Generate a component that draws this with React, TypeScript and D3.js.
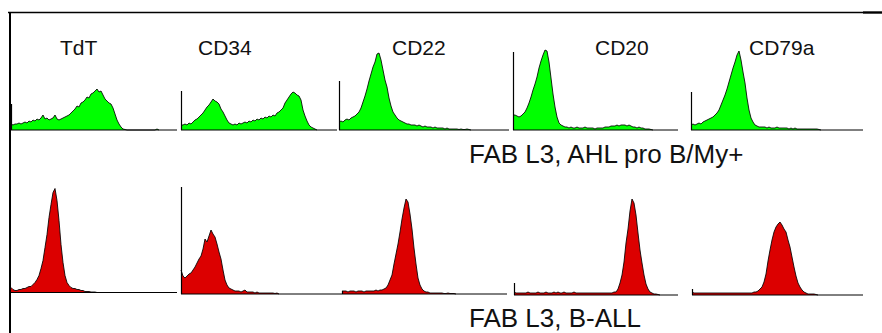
import React from "react";
import * as d3 from "d3";

// ---------- DATA (heights of histogram above baseline, sampled every channel) ----------
const markers = ["TdT", "CD34", "CD22", "CD20", "CD79a"];
const rowLabels = ["FAB L3, AHL pro B/My+", "FAB L3, B-ALL"];

// first-channel spike heights (vertical axis bars)
const greenSpikes = [26, 39, 49, 78, 38];
const redSpikes = [0, 107, 3, 12, 6];

const tdtGreen = [6, 5, 6, 6, 7, 6, 7, 8, 7, 9, 8, 10, 9, 11, 10, 12, 15, 11, 12, 10, 11, 12, 15, 11, 10, 11, 12, 13, 14, 15, 17, 19, 21, 24, 23, 27, 28, 30, 33, 32, 36, 37, 39, 41, 38, 39, 35, 31, 29, 27, 26, 22, 16, 10, 6, 3, 1, 0.5, 0, 0, 0, 0, 0, 0, 0, 0, 0, 0, 0, 0, 0, 0, 0, 1, 0];
const cd34Green = [5, 5, 6, 5, 7, 6, 8, 10, 11, 13, 15, 17, 20, 23, 25, 28, 31, 29, 28, 26, 21, 18, 14, 10, 7, 6, 5, 6, 5, 7, 6, 7, 8, 7, 9, 8, 10, 9, 11, 10, 12, 11, 13, 12, 14, 13, 15, 14, 17, 18, 20, 22, 27, 30, 33, 36, 38, 37, 35, 34, 30, 20, 14, 9, 5, 3, 2, 1, 0];
const cd22Green = [8, 9, 8, 10, 11, 10, 12, 13, 14, 16, 18, 22, 28, 34, 41, 49, 56, 63, 68, 76, 77, 70, 60, 50, 43, 32, 24, 18, 15, 12, 10, 9, 8, 7, 6, 6, 5, 5, 5, 4, 5, 4, 3, 4, 3, 3, 3, 2, 3, 2, 2, 2, 2, 1, 2, 1, 1, 1, 1, 1, 0.5, 1, 0.5, 0.5, 1, 0.5, 0];
const cd20Green = [15, 15, 14, 13, 14, 16, 18, 22, 27, 33, 40, 46, 53, 62, 69, 75, 80, 79, 68, 52, 36, 23, 13, 7, 5, 4, 3, 3, 2, 3, 2, 2, 3, 2, 2, 2, 3, 2, 2, 2, 2, 1, 2, 2, 2, 2, 3, 3, 3, 4, 4, 4, 5, 4, 5, 5, 5, 4, 5, 4, 3, 3, 2, 3, 2, 2, 1, 1, 1, 0.5, 0];
const cd79aGreen = [5, 6, 5, 6, 7, 6, 8, 9, 10, 11, 12, 13, 15, 17, 20, 25, 30, 35, 41, 48, 55, 62, 68, 75, 79, 70, 58, 47, 32, 20, 12, 8, 5, 4, 3, 3, 3, 3, 2, 3, 2, 2, 2, 3, 2, 2, 2, 2, 2, 1, 2, 1, 2, 1, 1, 1, 1, 1, 1, 1, 1, 1, 1, 1, 0.5, 0];

const tdtRed = [5, 3, 2, 2, 3, 3, 4, 4, 5, 6, 6, 8, 10, 13, 17, 24, 32, 45, 58, 75, 88, 100, 104, 92, 72, 48, 30, 17, 10, 7, 5, 4, 4, 3, 3, 2, 2, 1, 1, 1, 0.5, 0.5, 0.5, 0];
const cd34Red = [24, 18, 16, 18, 20, 21, 24, 27, 31, 35, 38, 45, 55, 52, 58, 64, 60, 57, 50, 42, 35, 24, 14, 9, 6, 5, 4, 3, 3, 3, 2, 3, 4, 2, 2, 2, 2, 1, 2, 1, 1, 1, 1, 1, 1, 1, 1, 0.5, 1, 0];
const cd22Red = [3, 3, 3, 2, 3, 3, 3, 2, 3, 3, 3, 2, 3, 3, 3, 3, 3, 4, 3, 4, 4, 5, 6, 9, 14, 19, 30, 40, 50, 62, 75, 86, 95, 92, 80, 65, 46, 30, 16, 9, 5, 3, 2, 2, 1, 1, 1, 1, 1, 1, 1, 0.5, 0.5, 1, 0.5, 0.5, 0.5, 0];
const cd20Red = [3, 2, 2, 2, 2, 2, 2, 3, 2, 2, 2, 2, 3, 2, 2, 2, 3, 2, 2, 2, 3, 2, 3, 2, 2, 3, 2, 2, 2, 2, 3, 2, 2, 2, 2, 2, 2, 2, 2, 2, 2, 2, 2, 2, 2, 2, 2, 2, 2, 2, 3, 3, 6, 12, 20, 33, 52, 66, 84, 96, 92, 80, 62, 45, 32, 20, 11, 6, 3, 2, 1, 1, 0.5, 0];
const cd79aRed = [3, 2, 2, 2, 2, 2, 2, 2, 2, 2, 2, 2, 2, 2, 2, 2, 2, 2, 2, 2, 2, 2, 2, 2, 2, 2, 2, 2, 2, 2, 2, 3, 3, 4, 6, 8, 13, 21, 34, 45, 55, 63, 68, 71, 73, 70, 66, 63, 55, 48, 38, 28, 19, 12, 8, 5, 3, 2, 1, 1, 1, 1, 0.5, 0];

const greenSeries = [tdtGreen, cd34Green, cd22Green, cd20Green, cd79aGreen];
const redSeries = [tdtRed, cd34Red, cd22Red, cd20Red, cd79aRed];

// ---------- LAYOUT ----------
type Panel = { x0: number; x1: number; base: number };
const greenPanels: Panel[] = [
  { x0: 11, x1: 177, base: 130 },
  { x0: 181, x1: 337, base: 130 },
  { x0: 339, x1: 509, base: 130 },
  { x0: 513, x1: 678, base: 130 },
  { x0: 691, x1: 863, base: 130 },
];
const redPanels: Panel[] = [
  { x0: 11, x1: 177, base: 292.5 },
  { x0: 181, x1: 342, base: 294 },
  { x0: 342, x1: 507, base: 294 },
  { x0: 514, x1: 678, base: 295 },
  { x0: 692, x1: 863, base: 295 },
];
const labelX = [60, 198, 392, 595, 749];
const STEP = 2; // pixels per channel

function Histogram({ data, spike, p, fill }: { data: number[]; spike: number; p: Panel; fill: string }) {
  const channels = (p.x1 - p.x0) / STEP;
  const x = d3.scaleLinear().domain([0, channels]).range([p.x0, p.x1]);
  const y = d3.scaleLinear().domain([0, 100]).range([p.base, p.base - 100]);
  const area = d3
    .area<number>()
    .x((_, i) => x(i))
    .y0(y(0))
    .y1((d) => y(d));
  const line = d3
    .line<number>()
    .x((_, i) => x(i))
    .y((d) => y(d));
  return (
    <g>
      <path d={area(data) || ""} fill={fill} />
      <line x1={x(0)} x2={x(channels)} y1={y(0)} y2={y(0)} stroke="#000" strokeWidth={1} />
      <path d={line(data) || ""} fill="none" stroke="#000" strokeWidth={1} strokeOpacity={0.85} strokeLinejoin="round" />
      {spike > 0 && (
        <line x1={x(0) + 0.5} x2={x(0) + 0.5} y1={y(0)} y2={y(spike)} stroke="#000" strokeWidth={1.2} />
      )}
    </g>
  );
}

export default function App() {
  return (
    <svg
      width={882}
      height={333}
      style={{ position: "absolute", left: 0, top: 0, background: "#fff" }}
      fontFamily="'Liberation Sans', Arial, sans-serif"
    >
      <rect width={882} height={333} fill="#fff" />
      {greenSeries.map((d, i) => (
        <Histogram key={"g" + i} data={d} spike={greenSpikes[i]} p={greenPanels[i]} fill="#00ff00" />
      ))}
      {redSeries.map((d, i) => (
        <Histogram key={"r" + i} data={d} spike={redSpikes[i]} p={redPanels[i]} fill="#dc0000" />
      ))}
      {/* frame */}
      <line x1={8} x2={882} y1={12.5} y2={12.5} stroke="#000" strokeWidth={1.3} />
      <line x1={863} x2={882} y1={12.5} y2={12.5} stroke="#000" strokeWidth={2.2} />
      <line x1={10} x2={10} y1={12} y2={333} stroke="#000" strokeWidth={2} />
      {markers.map((m, i) => (
        <text key={m} x={labelX[i]} y={54.5} fontSize={21} fill="#111">
          {m}
        </text>
      ))}
      <text x={469} y={162.5} fontSize={26} fill="#111">
        {rowLabels[0]}
      </text>
      <text x={469} y={327} fontSize={26} fill="#111">
        {rowLabels[1]}
      </text>
    </svg>
  );
}
